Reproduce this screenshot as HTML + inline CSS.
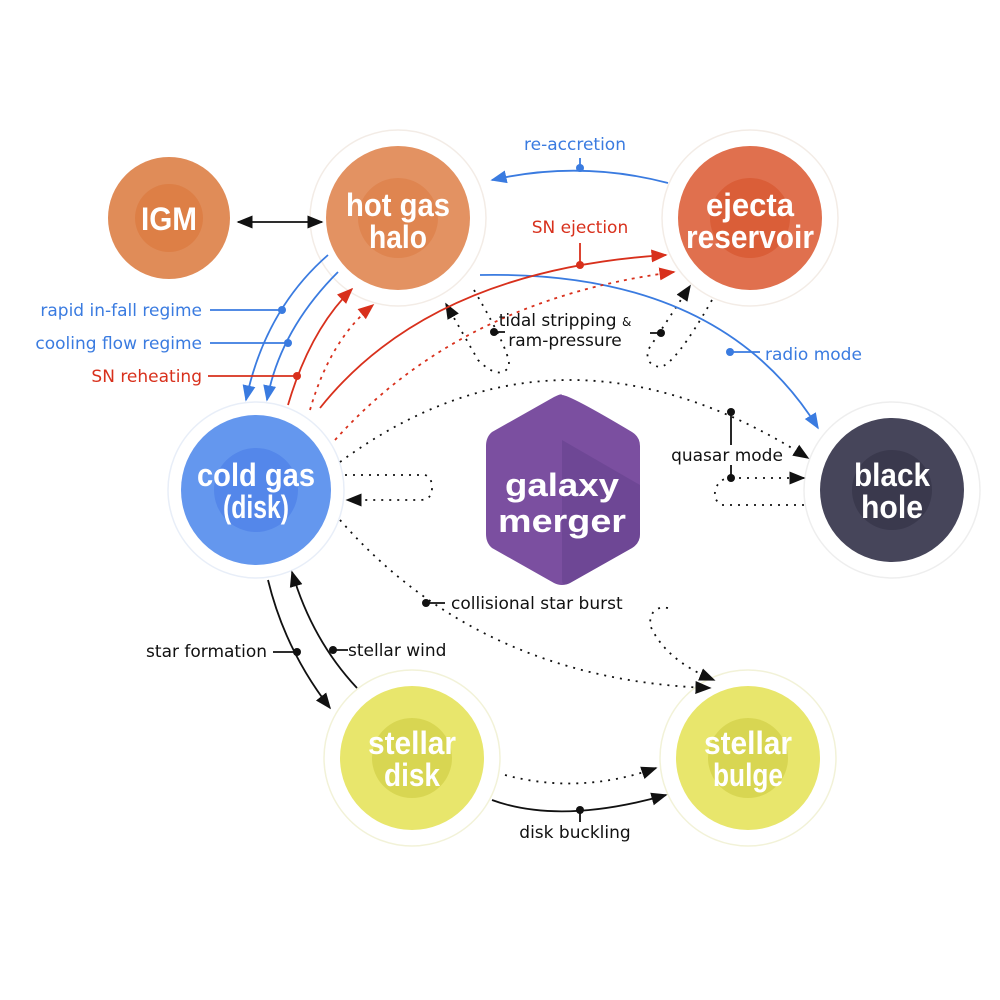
<!DOCTYPE html>
<html><head><meta charset="utf-8"><style>
html,body{margin:0;padding:0;background:#fff;width:1000px;height:1000px;overflow:hidden}
svg{display:block}
.n{font-family:"Liberation Sans",sans-serif;font-weight:bold;fill:#fff;text-anchor:middle;font-size:32px}
.l{font-family:"DejaVu Sans","Liberation Sans",sans-serif;font-size:17px}
</style></head><body>
<svg width="1000" height="1000" viewBox="0 0 1000 1000" xmlns="http://www.w3.org/2000/svg">
<defs>
<marker id="ak" viewBox="0 0 10 10" refX="9" refY="5" markerWidth="9" markerHeight="9" orient="auto-start-reverse"><path d="M0,1 L10,5 L0,9 z" fill="#111"/></marker>
<marker id="ab" viewBox="0 0 10 10" refX="9" refY="5" markerWidth="9" markerHeight="9" orient="auto"><path d="M0,1 L10,5 L0,9 z" fill="#3a7be0"/></marker>
<marker id="ar" viewBox="0 0 10 10" refX="9" refY="5" markerWidth="9" markerHeight="9" orient="auto"><path d="M0,1 L10,5 L0,9 z" fill="#d8301c"/></marker>
</defs>
<g fill="#fff" stroke="#f3ece6" stroke-width="1.5">
<circle cx="398" cy="218" r="88"/><circle cx="750" cy="218" r="88"/>
<circle cx="256" cy="490" r="88" stroke="#e8eef8"/><circle cx="892" cy="490" r="88" stroke="#eeeeee"/>
<circle cx="412" cy="758" r="88" stroke="#f2f2d8"/><circle cx="748" cy="758" r="88" stroke="#f2f2d8"/>
</g>
<circle cx="169" cy="218" r="61" fill="#e08c58"/><circle cx="169" cy="218" r="34" fill="#dd7f46"/>
<circle cx="398" cy="218" r="72" fill="#e39262"/><circle cx="398" cy="218" r="40" fill="#df8550"/>
<circle cx="750" cy="218" r="72" fill="#e0704e"/><circle cx="750" cy="218" r="40" fill="#da5e38"/>
<circle cx="256" cy="490" r="75" fill="#6497ee"/><circle cx="256" cy="490" r="42" fill="#5487ea"/>
<circle cx="892" cy="490" r="72" fill="#46455a"/><circle cx="892" cy="490" r="40" fill="#3a394d"/>
<circle cx="412" cy="758" r="72" fill="#e8e66c"/><circle cx="412" cy="758" r="40" fill="#d8d652"/>
<circle cx="748" cy="758" r="72" fill="#e8e66c"/><circle cx="748" cy="758" r="40" fill="#d8d652"/>
<path d="M562,395 Q570,395 632,432 Q640,437 640,446 L640,534 Q640,543 632,548 L570,583 Q562,587 554,583 L492,548 Q486,543 486,534 L486,446 Q486,437 492,432 L554,397 Q562,393 562,395z" fill="#7b4fa0"/>
<path d="M562,440 L640,485 L640,534 Q640,543 632,548 L570,583 Q562,587 562,580 z" fill="#6a4590" opacity="0.7"/>
<text class="n" x="169" y="230" textLength="56" lengthAdjust="spacingAndGlyphs">IGM</text>
<text class="n" x="398" y="216" textLength="104" lengthAdjust="spacingAndGlyphs">hot gas</text><text class="n" x="398" y="248" textLength="58" lengthAdjust="spacingAndGlyphs">halo</text>
<text class="n" x="750" y="216" textLength="88" lengthAdjust="spacingAndGlyphs">ejecta</text><text class="n" x="750" y="248" textLength="128" lengthAdjust="spacingAndGlyphs">reservoir</text>
<text class="n" x="256" y="486" textLength="118" lengthAdjust="spacingAndGlyphs">cold gas</text><text class="n" x="256" y="518" textLength="66" lengthAdjust="spacingAndGlyphs">(disk)</text>
<text class="n" x="892" y="486" textLength="76" lengthAdjust="spacingAndGlyphs">black</text><text class="n" x="892" y="518" textLength="62" lengthAdjust="spacingAndGlyphs">hole</text>
<text class="n" x="412" y="754" textLength="88" lengthAdjust="spacingAndGlyphs">stellar</text><text class="n" x="412" y="786" textLength="56" lengthAdjust="spacingAndGlyphs">disk</text>
<text class="n" x="748" y="754" textLength="88" lengthAdjust="spacingAndGlyphs">stellar</text><text class="n" x="748" y="786" textLength="70" lengthAdjust="spacingAndGlyphs">bulge</text>
<text class="n" x="562" y="496" font-size="48" textLength="114" lengthAdjust="spacingAndGlyphs">galaxy</text><text class="n" x="562" y="532" font-size="48" textLength="128" lengthAdjust="spacingAndGlyphs">merger</text>
<g fill="none" stroke="#111" stroke-width="1.8">
<path d="M238,222 L322,222" marker-start="url(#ak)" marker-end="url(#ak)"/>
<path d="M268,580 Q285,650 330,708" marker-end="url(#ak)"/>
<path d="M357,688 Q312,640 292,572" marker-end="url(#ak)"/>
<path d="M492,800 Q560,825 666,795" marker-end="url(#ak)"/>
<path d="M273,652 L297,652 M333,650 L348,650 M580,810 L580,822 M731,412 L731,445 M731,465 L731,478 M494,332 L505,332 M661,333 L650,333 M426,603 L445,603"/>
</g>
<g fill="none" stroke="#111" stroke-width="1.8" stroke-dasharray="2,6">
<path d="M340,462 Q560,300 808,458" marker-end="url(#ak)"/>
<path d="M345,475 L425,475 Q432,477 432,488 Q432,500 420,500 L347,500" marker-end="url(#ak)"/>
<path d="M731,478 L804,478" marker-end="url(#ak)"/>
<path d="M804,505 L722,505 Q712,500 716,488 Q720,478 731,478"/>
<path d="M340,520 Q480,680 710,688" marker-end="url(#ak)"/>
<path d="M668,608 Q650,605 650,625 Q665,660 714,680" marker-end="url(#ak)"/>
<path d="M505,775 Q580,795 656,768" marker-end="url(#ak)"/>
<path d="M474,290 Q515,360 508,368 Q498,380 478,360 L446,304" marker-end="url(#ak)"/>
<path d="M712,300 Q675,365 660,367 Q645,365 648,350 L690,286" marker-end="url(#ak)"/>
</g>
<g fill="none" stroke="#3a7be0" stroke-width="1.8">
<path d="M668,183 Q580,160 492,180" marker-end="url(#ab)"/>
<path d="M480,275 Q720,270 818,428" marker-end="url(#ab)"/>
<path d="M328,255 Q265,310 246,400" marker-end="url(#ab)"/>
<path d="M338,272 Q280,330 267,400" marker-end="url(#ab)"/>
<path d="M210,310 L282,310 M210,343 L288,343 M580,168 L580,158 M730,352 L760,352"/>
</g>
<g fill="none" stroke="#d8301c" stroke-width="1.8">
<path d="M320,408 Q430,270 666,255" marker-end="url(#ar)"/>
<path d="M288,405 Q310,330 352,289" marker-end="url(#ar)"/>
<path d="M208,376 L297,376 M580,265 L580,243"/>
<path d="M335,440 Q460,300 674,272" stroke-dasharray="3,5" marker-end="url(#ar)"/>
<path d="M310,410 Q330,340 373,305" stroke-dasharray="3,5" marker-end="url(#ar)"/>
</g>
<g fill="#3a7be0"><circle cx="580" cy="168" r="4"/><circle cx="730" cy="352" r="4"/><circle cx="282" cy="310" r="4"/><circle cx="288" cy="343" r="4"/></g>
<g fill="#d8301c"><circle cx="580" cy="265" r="4"/><circle cx="297" cy="376" r="4"/></g>
<g fill="#111"><circle cx="494" cy="332" r="4"/><circle cx="661" cy="333" r="4"/><circle cx="731" cy="412" r="4"/><circle cx="731" cy="478" r="4"/><circle cx="426" cy="603" r="4"/><circle cx="297" cy="652" r="4"/><circle cx="333" cy="650" r="4"/><circle cx="580" cy="810" r="4"/></g>
<g class="l" fill="#3a7be0">
<text x="575" y="150" text-anchor="middle">re-accretion</text>
<text x="765" y="360">radio mode</text>
<text x="202" y="316" text-anchor="end">rapid in-fall regime</text>
<text x="202" y="349" text-anchor="end">cooling flow regime</text>
</g>
<g class="l" fill="#d8301c">
<text x="580" y="233" text-anchor="middle">SN ejection</text>
<text x="202" y="382" text-anchor="end">SN reheating</text>
</g>
<g class="l" fill="#111">
<text x="565" y="326" text-anchor="middle">tidal stripping <tspan font-size="12">&amp;</tspan></text>
<text x="565" y="346" text-anchor="middle">ram-pressure</text>
<text x="727" y="461" text-anchor="middle">quasar mode</text>
<text x="451" y="609">collisional star burst</text>
<text x="267" y="657" text-anchor="end">star  formation</text>
<text x="348" y="656">stellar wind</text>
<text x="575" y="838" text-anchor="middle">disk  buckling</text>
</g>
</svg>
</body></html>
